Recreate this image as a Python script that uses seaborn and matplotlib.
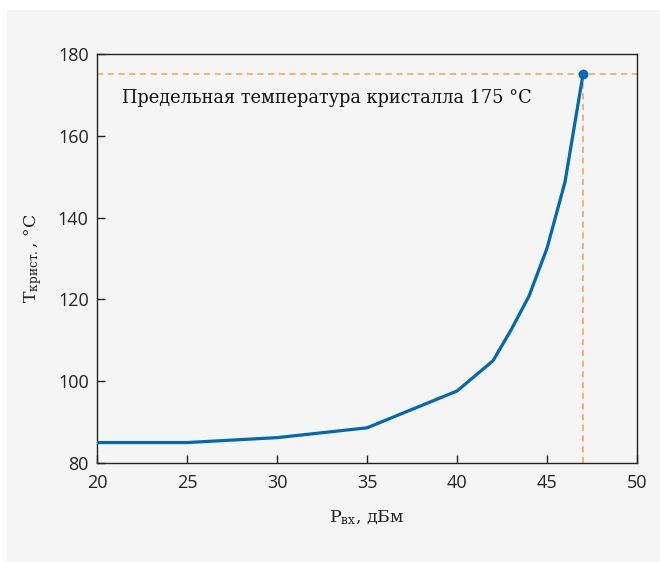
import matplotlib
matplotlib.use("Agg")
import matplotlib.pyplot as plt
import seaborn as sns
import pandas as pd
from matplotlib.patches import Rectangle

p_in = [20, 25, 30, 35, 40, 42, 43, 44, 45, 46, 47]
t_cryst = [85.0, 85.0, 86.2, 88.6, 97.6, 105.0, 112.5, 120.8, 132.5, 148.7, 175.0]
limit_t = 175
limit_p = 47
x_ticks = [20, 25, 30, 35, 40, 45, 50]
y_ticks = [80, 100, 120, 140, 160, 180]
annot = "Предельная температура кристалла 175 °C"

sns.set_theme(style="ticks")
plt.rcParams['font.family'] = ['DejaVu Serif']
plt.rcParams['mathtext.fontset'] = 'custom'
plt.rcParams['mathtext.rm'] = 'DejaVu Serif'
plt.rcParams['mathtext.it'] = 'DejaVu Serif'

bg = '#f5f5f5'
fig = plt.figure(figsize=(6.6, 5.62), dpi=100, facecolor='white')
fig.patches.append(Rectangle((7/660, 0), 1, (562-10)/562, transform=fig.transFigure,
                             facecolor=bg, edgecolor='none', zorder=-10))
ax = fig.add_axes([97/660, (562-463)/562, 540/660, 409/562])
ax.set_zorder(1)
ax.set_facecolor(bg)

df = pd.DataFrame({'p': p_in, 't': t_cryst})
sns.lineplot(data=df, x='p', y='t', ax=ax, color='#0068b4', linewidth=2.3, zorder=3)
ax.axhline(limit_t, color='#f5a04c', linestyle=(0, (4, 3)), linewidth=1.1, zorder=2)
ax.plot([limit_p, limit_p], [80, limit_t], color='#f5a04c', linestyle=(0, (4, 3)), linewidth=1.1, zorder=2)
ax.plot([limit_p], [limit_t], 'o', color='#0068b4', markersize=6, zorder=4)

ax.set_xlim(20, 50)
ax.set_ylim(80, 180)
ax.set_xticks(x_ticks)
ax.set_yticks(y_ticks)
ax.tick_params(direction='in', length=6, width=1, colors='#222222', labelsize=13, pad=6)
ax.tick_params(axis='x', pad=8)
for lab in ax.get_xticklabels() + ax.get_yticklabels():
    lab.set_fontfamily(['Open Sans', 'DejaVu Sans'])
for s in ax.spines.values():
    s.set_color('#222222')
    s.set_linewidth(1.0)

ax.set_xlabel(r'$\mathrm{P_{вх}}$, дБм', fontsize=12.5, color='#222222', labelpad=12)
ax.set_ylabel(r'$\mathrm{T_{крист.}}$, °C', fontsize=12.5, color='#222222', labelpad=10)
ax.text(21.4, 169.2, annot, fontsize=12.8, color='#111111', va='center', ha='left')

fig.savefig('out.png', dpi=100, facecolor='white')
